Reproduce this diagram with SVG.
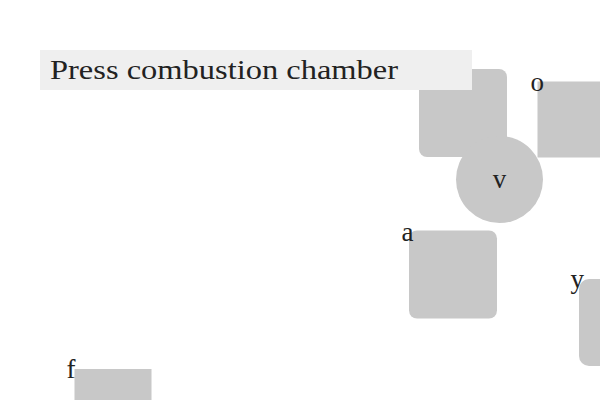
<svg xmlns="http://www.w3.org/2000/svg" width="600" height="400" viewBox="0 0 600 400">
<style>
.shape{fill:#c8c8c8}
.lbl{font-family:"Liberation Serif","DejaVu Serif",serif;font-size:27px;fill:#222}
</style>
<rect width="600" height="400" fill="#ffffff"/>
<g id="node-press">
<rect class="shape" x="419" y="69" width="88" height="88" rx="8"/>
</g>
<g id="node-v">
<circle class="shape" cx="499.5" cy="179.5" r="43.5"/>
<text class="lbl" x="499.5" y="188" text-anchor="middle">v</text>
</g>
<g id="node-o">
<rect class="shape" x="537.5" y="81.5" width="90" height="76"/>
<text class="lbl" x="530.5" y="91">o</text>
</g>
<g id="node-a">
<rect class="shape" x="409" y="230.5" width="88" height="88" rx="8"/>
<text class="lbl" x="401.5" y="241">a</text>
</g>
<g id="node-y">
<rect class="shape" x="579" y="279" width="88" height="87" rx="10"/>
<text class="lbl" x="570.5" y="288">y</text>
</g>
<g id="node-f">
<rect class="shape" x="74.5" y="369" width="77" height="40"/>
<text class="lbl" x="66.5" y="377.5">f</text>
</g>
<g id="title">
<rect x="40" y="50" width="432" height="40" fill="#efefef"/>
<text class="lbl" x="50" y="78.7" font-size="28" textLength="348" lengthAdjust="spacingAndGlyphs" style="font-size:28px">Press combustion chamber</text>
</g>
<g id="connectors"></g>
</svg>
